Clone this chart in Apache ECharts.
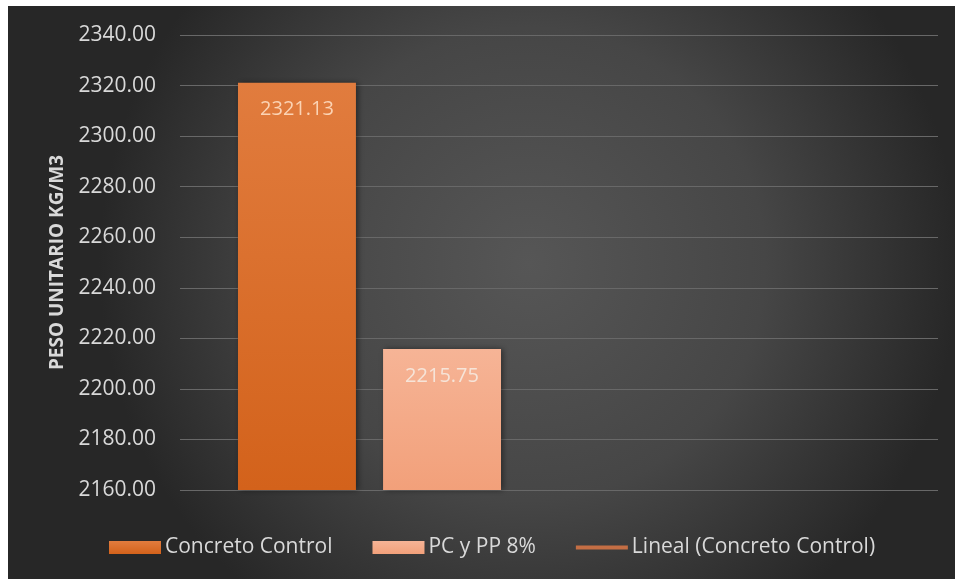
<!DOCTYPE html>
<html>
<head>
<meta charset="utf-8">
<script src="https://cdn.jsdelivr.net/npm/echarts@6/dist/echarts.min.js"></script>
<style>
  html, body { margin: 0; padding: 0; background: #ffffff; }
  #chart { position: absolute; left: 8px; top: 6px; width: 947px; height: 573px; }
</style>
</head>
<body>
<div id="chart"></div>
<script>
// Unit weight of concrete (kg/m3)
const categories = ['1', '2'];
const controlValues = [2321.13, null];
const fiberValues = [2215.75, null];
const yTicks = { min: 2160, max: 2340, interval: 20 };

const seriesNames = ['Concreto Control', 'PC y PP 8%', 'Lineal (Concreto Control)'];
const axisTitle = 'PESO UNITARIO KG/M3';

const FONT = '"Open Sans", "Noto Sans", sans-serif';
const TEXT = '#d9d9d9';

const chart = echarts.init(document.getElementById('chart'), null, { renderer: 'canvas' });

chart.setOption({
  backgroundColor: {
    type: 'radial', x: 0.55, y: 0.45, r: 0.75,
    colorStops: [
      { offset: 0, color: '#565656' },
      { offset: 0.55, color: '#464646' },
      { offset: 1, color: '#272727' }
    ]
  },
  animation: false,
  grid: { left: 172, right: 17, top: 29, bottom: 89 },
  legend: {
    left: 96, top: 526,
    itemWidth: 52, itemHeight: 13, itemGap: 40,
    textStyle: { color: TEXT, fontFamily: FONT, fontSize: 21, padding: [0, 0, 0, -1] },
    data: [
      { name: seriesNames[0], icon: 'rect' },
      { name: seriesNames[1], icon: 'rect' },
      { name: seriesNames[2], icon: 'path://M0,0 L52,0 L52,4 L0,4 Z' }
    ]
  },
  xAxis: {
    type: 'category',
    data: categories,
    axisLine: { show: false },
    axisTick: { show: false },
    axisLabel: { show: false }
  },
  yAxis: {
    type: 'value',
    min: yTicks.min, max: yTicks.max, interval: yTicks.interval,
    name: axisTitle,
    nameLocation: 'middle',
    nameGap: 112,
    nameTextStyle: { color: TEXT, fontFamily: FONT, fontSize: 19, fontWeight: 'bold' },
    axisLine: { show: false },
    axisTick: { show: false },
    axisLabel: {
      color: TEXT, fontFamily: FONT, fontSize: 21, margin: 24,
      formatter: v => v.toFixed(2)
    },
    splitLine: { lineStyle: { color: '#686868', width: 1 } }
  },
  series: [
    {
      name: seriesNames[0],
      type: 'bar',
      data: controlValues,
      barCategoryGap: '30.6%',
      barGap: '23%',
      itemStyle: {
        color: {
          type: 'linear', x: 0, y: 0, x2: 0, y2: 1,
          colorStops: [{ offset: 0, color: '#e17c3e' }, { offset: 1, color: '#d3621b' }]
        },
        shadowColor: 'rgba(0,0,0,0.45)', shadowBlur: 6, shadowOffsetX: 2
      },
      label: {
        show: true, position: 'insideTop', distance: 17,
        color: '#fbd3b4', fontFamily: FONT, fontSize: 20,
        formatter: p => p.value.toFixed(2)
      }
    },
    {
      name: seriesNames[1],
      type: 'bar',
      data: fiberValues,
      itemStyle: {
        color: {
          type: 'linear', x: 0, y: 0, x2: 0, y2: 1,
          colorStops: [{ offset: 0, color: '#f6b496' }, { offset: 1, color: '#f2a07a' }]
        },
        shadowColor: 'rgba(0,0,0,0.45)', shadowBlur: 6, shadowOffsetX: 2
      },
      label: {
        show: true, position: 'insideTop', distance: 17,
        color: '#f6e4d8', fontFamily: FONT, fontSize: 20,
        formatter: p => p.value.toFixed(2)
      }
    },
    {
      // linear trend of the control series (a single point, so no visible segment)
      name: seriesNames[2],
      type: 'line',
      data: controlValues,
      symbol: 'none',
      showSymbol: false,
      lineStyle: { color: '#c46e44', width: 4 },
      itemStyle: { color: '#c46e44' }
    }
  ]
});
</script>
</body>
</html>
